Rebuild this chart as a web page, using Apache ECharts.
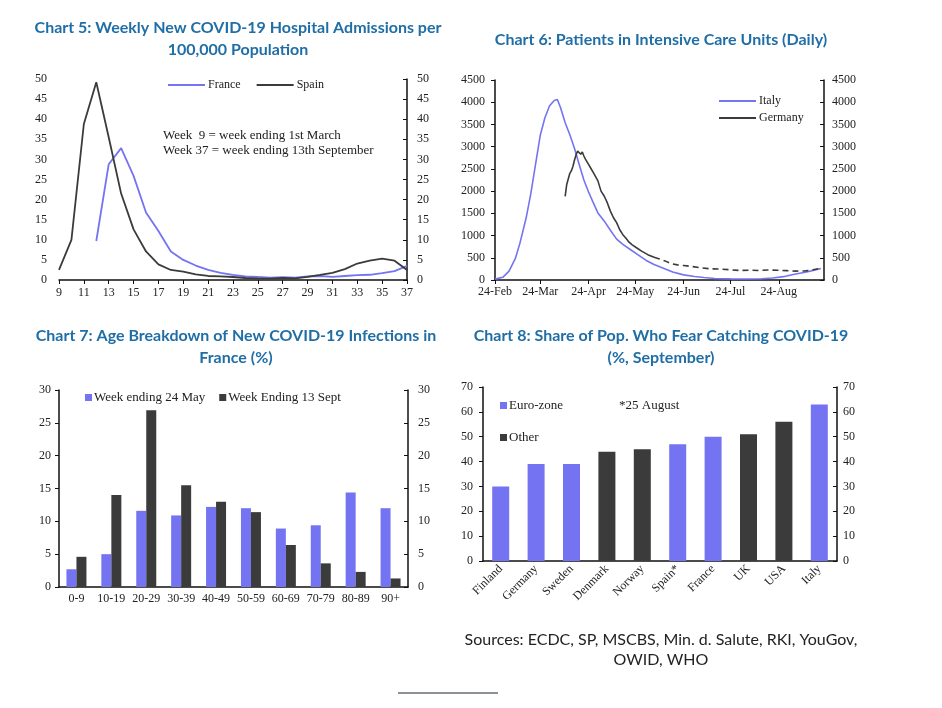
<!DOCTYPE html>
<html><head><meta charset="utf-8">
<script src="https://cdn.jsdelivr.net/npm/echarts@6/dist/echarts.min.js"></script>
<style>html,body{margin:0;padding:0;background:#fff}#c{width:942px;height:708px}</style>
</head><body><div id="c"></div>
<script>
// ---------- Chart 5 data ----------
const weeks = ['9','10','11','12','13','14','15','16','17','18','19','20','21','22','23','24','25','26','27','28','29','30','31','32','33','34','35','36','37'];
const franceAdm = [null,null,null,9.7,28.8,32.8,25.9,16.8,12.2,7.1,5.0,3.6,2.5,1.8,1.3,0.9,0.8,0.6,0.7,0.6,0.9,1.0,0.8,1.0,1.2,1.3,1.7,2.2,3.5];
const spainAdm = [2.5,10,38.8,49.2,35.5,21.5,12.6,7.1,3.9,2.5,2.1,1.4,1.0,0.9,0.75,0.5,0.4,0.35,0.5,0.4,0.8,1.25,1.8,2.7,4.1,4.8,5.3,4.8,2.5];

// ---------- Chart 6 data ----------
const icuStart = '2020-02-24', icuEnd = '2020-09-22';
const icuTicks = ['2020-02-24','2020-03-24','2020-04-24','2020-05-24','2020-06-24','2020-07-24','2020-08-24'];
const italyIcu = [['2020-02-24',20],['2020-02-29',60],['2020-03-04',200],['2020-03-08',480],['2020-03-11',830],['2020-03-15',1400],['2020-03-18',1950],['2020-03-21',2600],['2020-03-24',3250],['2020-03-27',3650],['2020-03-30',3920],['2020-04-02',4040],['2020-04-04',4060],['2020-04-06',3880],['2020-04-09',3540],['2020-04-12',3270],['2020-04-15',2960],['2020-04-18',2600],['2020-04-21',2250],['2020-04-24',1980],['2020-04-27',1740],['2020-04-30',1510],['2020-05-04',1330],['2020-05-08',1120],['2020-05-12',920],['2020-05-16',800],['2020-05-21',680],['2020-05-26',560],['2020-05-31',440],['2020-06-05',350],['2020-06-11',265],['2020-06-17',180],['2020-06-24',115],['2020-07-01',80],['2020-07-07',55],['2020-07-14',35],['2020-07-24',25],['2020-08-03',23],['2020-08-13',28],['2020-08-20',45],['2020-08-27',75],['2020-09-03',130],['2020-09-10',175],['2020-09-15',215],['2020-09-20',260]];
const germanyIcu = [['2020-04-09',1880],['2020-04-10',2150],['2020-04-11',2170],['2020-04-12',2400],['2020-04-13',2460],['2020-04-14',2560],['2020-04-15',2700],['2020-04-16',2820],['2020-04-17',2900],['2020-04-18',2920],['2020-04-19',2830],['2020-04-20',2880],['2020-04-21',2790],['2020-04-22',2720],['2020-04-24',2600],['2020-04-26',2480],['2020-04-27',2420],['2020-04-28',2450],['2020-04-30',2230],['2020-05-02',2000],['2020-05-04',1890],['2020-05-06',1740],['2020-05-08',1550],['2020-05-10',1400],['2020-05-12',1290],['2020-05-14',1130],['2020-05-16',1020],['2020-05-18',940],['2020-05-20',850],['2020-05-22',790],['2020-05-25',720],['2020-05-28',650],['2020-06-01',570],['2020-06-05',510]];
const germanyIcuLater = [['2020-06-05',510],['2020-06-08',480],['2020-06-12',430],['2020-06-16',370],['2020-06-20',340],['2020-06-24',325],['2020-06-30',300],['2020-07-06',270],['2020-07-12',250],['2020-07-18',245],['2020-07-24',230],['2020-07-30',215],['2020-08-05',220],['2020-08-11',215],['2020-08-17',225],['2020-08-23',220],['2020-08-29',210],['2020-09-04',200],['2020-09-10',205],['2020-09-15',230],['2020-09-20',265]];

// ---------- Chart 7 data ----------
const ageGroups = ['0-9','10-19','20-29','30-39','40-49','50-59','60-69','70-79','80-89','90+'];
const may24Share = [2.7,5.0,11.6,10.9,12.2,12.0,8.9,9.4,14.4,12.0];
const sep13Share = [4.6,14.0,26.9,15.5,13.0,11.4,6.4,3.6,2.3,1.3];

// ---------- Chart 8 data ----------
const countries = ['Finland','Germany','Sweden','Denmark','Norway','Spain*','France','UK','USA','Italy'];
const fearShare = [30,39,39,44,45,47,50,51,56,63];
const fearGroup = ['Euro-zone','Euro-zone','Euro-zone','Other','Other','Euro-zone','Euro-zone','Other','Other','Euro-zone'];

const BLUE = '#7474f2', DARK = '#3b3b3b', TITLE = '#1f6ea6';
const SERIF = 'Liberation Serif', SANS = 'Lato';
const MONTHS = ['Jan','Feb','Mar','Apr','May','Jun','Jul','Aug','Sep','Oct','Nov','Dec'];
const DAY = 86400000;
const t0 = new Date(icuStart).getTime();
const dayIdx = s => Math.round((new Date(s).getTime() - t0) / DAY);
const dayLabel = i => { const d = new Date(t0 + i * DAY); return d.getUTCDate() + '-' + MONTHS[d.getUTCMonth()]; };
const tickIdx = icuTicks.map(dayIdx);
const toXY = arr => arr.map(p => [dayIdx(p[0]), p[1]]);

const lbl = (extra) => Object.assign({color:'#222', fontFamily:SERIF, fontSize:12, formatter: v => String(v)}, extra||{});
const aLine = (show) => ({show: show, lineStyle:{color:'#111', width:1.5}});
const yAx = (grid, max, interval, side, opts) => Object.assign({
  type:'value', gridIndex:grid, min:0, max:max, interval:interval, position:side,
  splitLine:{show:false}, axisLine:aLine(true),
  axisTick:{show:true, inside: side==='right', length:4, lineStyle:{color:'#111'}},
  axisLabel:lbl({margin:10})
}, opts||{});

const chart = echarts.init(document.getElementById('c'), null, {renderer:'canvas'});
const option = {
  backgroundColor:'#fff',
  animation:false,
  grid:[
    {left:59, top:79, width:348, height:201},
    {left:495, top:80, width:329, height:200},
    {left:59, top:390, width:349, height:197},
    {left:483, top:387, width:354, height:174}
  ],
  xAxis:[
    {type:'category', gridIndex:0, data:weeks, boundaryGap:false,
     axisLine:aLine(true), axisTick:{interval:1, length:4, lineStyle:{color:'#111'}},
     axisLabel:lbl({interval:1, margin:7})},
    {type:'value', gridIndex:1, min:0, max:dayIdx(icuEnd),
     splitLine:{show:false}, axisLine:aLine(true),
     axisTick:{show:true, length:4, customValues:tickIdx, lineStyle:{color:'#111'}},
     axisLabel:lbl({margin:6, customValues:tickIdx, formatter: v => dayLabel(v)})},
    {type:'category', gridIndex:2, data:ageGroups,
     axisLine:aLine(true), axisTick:{length:4, lineStyle:{color:'#111'}},
     axisLabel:lbl({interval:0, margin:6})},
    {type:'category', gridIndex:3, data:countries,
     axisLine:aLine(true), axisTick:{length:4, lineStyle:{color:'#111'}},
     axisLabel:lbl({interval:0, rotate:45, margin:6})}
  ],
  yAxis:[
    yAx(0, 50, 5, 'left', {axisLine:aLine(false), axisTick:{show:false}, axisLabel:lbl({margin:12})}),
    yAx(0, 50, 5, 'right'),
    yAx(1, 4500, 500, 'left'),
    yAx(1, 4500, 500, 'right', {axisLabel:lbl({margin:8})}),
    yAx(2, 30, 5, 'left', {axisLabel:lbl({margin:8})}),
    yAx(2, 30, 5, 'right'),
    yAx(3, 70, 10, 'left'),
    yAx(3, 70, 10, 'right', {axisLabel:lbl({margin:6})})
  ],
  legend:[
    {data:['France','Spain'], left:163, top:74, icon:'rect', itemWidth:37, itemHeight:2, itemGap:16, itemStyle:{borderWidth:0},
     textStyle:{fontFamily:SERIF, fontSize:12, color:'#222', padding:[0,0,0,-2]}},
    {data:['Italy','Germany'], left:714, top:90, orient:'vertical', icon:'rect', itemWidth:37, itemHeight:2, itemGap:5,
     textStyle:{fontFamily:SERIF, fontSize:12, color:'#222', padding:[0,0,0,-2]}},
    {data:['Week ending 24 May','Week Ending 13 Sept'], left:80, top:386, icon:'rect', itemWidth:7, itemHeight:7, itemGap:14,
     textStyle:{fontFamily:SERIF, fontSize:13, color:'#222', padding:[0,0,0,-3]}},
    {data:['Euro-zone','Other'], left:495, top:394, orient:'vertical', icon:'rect', itemWidth:7, itemHeight:7, itemGap:19,
     textStyle:{fontFamily:SERIF, fontSize:13, color:'#222', padding:[0,0,0,-3]}}
  ],
  series:[
    {name:'France', type:'line', xAxisIndex:0, yAxisIndex:0, data:franceAdm, symbol:'none', connectNulls:false,
     lineStyle:{color:BLUE, width:1.8}, itemStyle:{color:BLUE}},
    {name:'Spain', type:'line', xAxisIndex:0, yAxisIndex:0, data:spainAdm, symbol:'none',
     lineStyle:{color:DARK, width:1.8}, itemStyle:{color:DARK}},
    {name:'Italy', type:'line', xAxisIndex:1, yAxisIndex:2, data:toXY(italyIcu), symbol:'none',
     lineStyle:{color:BLUE, width:1.6}, itemStyle:{color:BLUE}},
    {name:'Germany', type:'line', xAxisIndex:1, yAxisIndex:2, data:toXY(germanyIcu), symbol:'none',
     lineStyle:{color:DARK, width:1.6}, itemStyle:{color:DARK}},
    {name:'Germany', type:'line', xAxisIndex:1, yAxisIndex:2, data:toXY(germanyIcuLater), symbol:'none',
     lineStyle:{color:DARK, width:1.6, type:[6,4]}, itemStyle:{color:DARK}},
    {name:'Week ending 24 May', type:'bar', xAxisIndex:2, yAxisIndex:4, data:may24Share, barWidth:10, barGap:'0%',
     itemStyle:{color:BLUE}},
    {name:'Week Ending 13 Sept', type:'bar', xAxisIndex:2, yAxisIndex:4, data:sep13Share, barWidth:10, barGap:'0%',
     itemStyle:{color:DARK}},
    {name:'Euro-zone', type:'bar', xAxisIndex:3, yAxisIndex:6, barWidth:17, barGap:'-100%',
     data:fearShare.map((v,i) => fearGroup[i]==='Euro-zone' ? v : '-'), itemStyle:{color:BLUE}},
    {name:'Other', type:'bar', xAxisIndex:3, yAxisIndex:6, barWidth:17, barGap:'-100%',
     data:fearShare.map((v,i) => fearGroup[i]==='Other' ? v : '-'), itemStyle:{color:DARK}}
  ],
  graphic:[
    {type:'text', style:{text:'Chart 5: Weekly New COVID-19 Hospital Admissions per', x:238, y:28, textAlign:'center', textVerticalAlign:'middle', font:'bold 16px '+SANS, fill:TITLE}},
    {type:'text', style:{text:'100,000 Population', x:238, y:50, textAlign:'center', textVerticalAlign:'middle', font:'bold 16px '+SANS, fill:TITLE}},
    {type:'text', style:{text:'Chart 6: Patients in Intensive Care Units (Daily)', x:661, y:40, textAlign:'center', textVerticalAlign:'middle', font:'bold 16px '+SANS, fill:TITLE}},
    {type:'text', style:{text:'Chart 7: Age Breakdown of New COVID-19 Infections in', x:236, y:336, textAlign:'center', textVerticalAlign:'middle', font:'bold 16px '+SANS, fill:TITLE}},
    {type:'text', style:{text:'France (%)', x:236, y:358, textAlign:'center', textVerticalAlign:'middle', font:'bold 16px '+SANS, fill:TITLE}},
    {type:'text', style:{text:'Chart 8: Share of Pop. Who Fear Catching COVID-19', x:661, y:336, textAlign:'center', textVerticalAlign:'middle', font:'bold 16px '+SANS, fill:TITLE}},
    {type:'text', style:{text:'(%, September)', x:661, y:358, textAlign:'center', textVerticalAlign:'middle', font:'bold 16px '+SANS, fill:TITLE}},
    {type:'text', style:{text:'Week  9 = week ending 1st March', x:163, y:136, textAlign:'left', textVerticalAlign:'middle', font:'13px '+SERIF, fill:'#222'}},
    {type:'text', style:{text:'Week 37 = week ending 13th September', x:163, y:151, textAlign:'left', textVerticalAlign:'middle', font:'13px '+SERIF, fill:'#222'}},
    {type:'text', style:{text:'*25 August', x:619, y:406, textAlign:'left', textVerticalAlign:'middle', font:'13px '+SERIF, fill:'#222'}},
    {type:'text', style:{text:'Sources: ECDC, SP, MSCBS, Min. d. Salute, RKI, YouGov,', x:661, y:640, textAlign:'center', textVerticalAlign:'middle', font:'16px '+SANS, fill:'#222'}},
    {type:'text', style:{text:'OWID, WHO', x:661, y:660, textAlign:'center', textVerticalAlign:'middle', font:'16px '+SANS, fill:'#222'}},
    {type:'line', shape:{x1:398, y1:693, x2:498, y2:693}, style:{stroke:'#8c9099', lineWidth:2}}
  ]
};
chart.setOption(option);
</script>
</body></html>
